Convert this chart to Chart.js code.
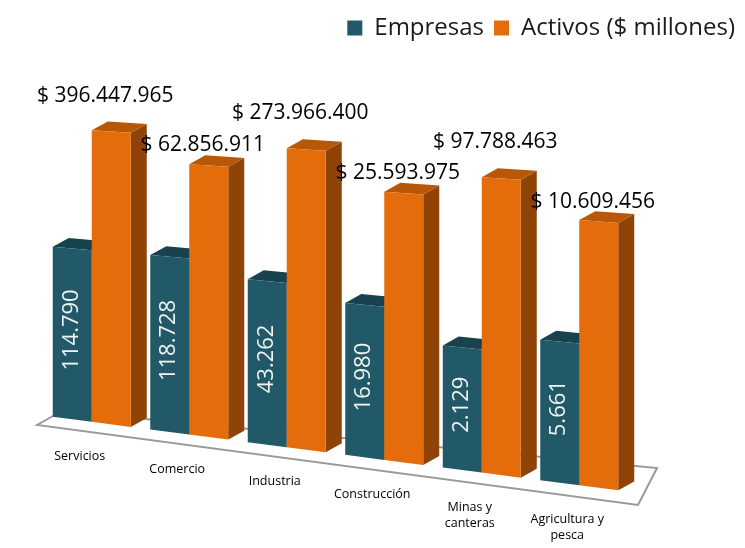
<!DOCTYPE html>
<html>
<head>
<meta charset="utf-8">
<script src="https://cdn.jsdelivr.net/npm/chart.js@4"></script>
<style>
  html, body { margin: 0; padding: 0; background: #fff; }
  #wrap { width: 745px; height: 548px; }
</style>
</head>
<body>
<div id="wrap"><canvas id="grafico"></canvas></div>
<script>
const categorias = ['Servicios', 'Comercio', 'Industria', 'Construcción', ['Minas y', 'canteras'], ['Agricultura y', 'pesca']];
const empresas = [114790, 118728, 43262, 16980, 2129, 5661];
const activos = [396447965, 62856911, 273966400, 25593975, 97788463, 10609456];
const series = ['Empresas', 'Activos ($ millones)'];

const FUENTE = '"Open Sans", "DejaVu Sans", sans-serif';
const SLOPE = 0.13;        // inclinación del piso
const PIVOT_X = 62;
const PERSP = 0.00022;     // las barras de la derecha se ven algo más altas
const PERSP_X = 333;
const DEPTH = { dx: 16, dy: -11 };   // profundidad 3D (en espacio inclinado)

const colores = {
    teal: { front: '#215968', top: '#18424d', side: '#173f4a' },
    orange: { front: '#e46c0a', top: '#b95708', side: '#8f4307' }
};

function miles(v) {
    return String(v).replace(/\B(?=(\d{3})+(?!\d))/g, '.');
}

// y en pantalla de un punto del espacio inclinado
function sy(x, y) {
    return y + SLOPE * (x - PIVOT_X);
}

// tope de la barra con la corrección de perspectiva
function topeEn(x, top, base) {
    return base - (base - top) * (1 + PERSP * (x - PERSP_X));
}

function poligono(ctx, pts, color) {
    ctx.beginPath();
    ctx.moveTo(pts[0][0], pts[0][1]);
    for (let k = 1; k < pts.length; k++) ctx.lineTo(pts[k][0], pts[k][1]);
    ctx.closePath();
    ctx.fillStyle = color;
    ctx.fill();
}

const perspectiva = {
    id: 'perspectiva',
    beforeDatasetsDraw(chart) {
        const ctx = chart.ctx;
        const a = chart.chartArea;
        const L = a.left, R = a.right, B = a.bottom;

        // piso
        ctx.save();
        ctx.beginPath();
        ctx.moveTo(L - 6, B + 7);
        ctx.lineTo(L + 19, B - 7);
        ctx.lineTo(R + 29, B + 50);
        ctx.lineTo(R + 10, B + 87);
        ctx.closePath();
        ctx.fillStyle = '#ffffff';
        ctx.fill();
        ctx.strokeStyle = '#999999';
        ctx.lineWidth = 2;
        ctx.stroke();
        ctx.restore();

        const metaE = chart.getDatasetMeta(0);
        const metaA = chart.getDatasetMeta(1);
        const { dx, dy } = DEPTH;
        ctx.save();
        ctx.transform(1, SLOPE, 0, 1, 0, -SLOPE * PIVOT_X);
        for (let i = 0; i < categorias.length; i++) {
            [[metaE, colores.teal], [metaA, colores.orange]].forEach(([meta, c]) => {
                const p = meta.data[i].getProps(['x', 'y', 'base', 'width'], true);
                const x0 = p.x - p.width / 2, x1 = p.x + p.width / 2;
                const base = p.base;
                const t0 = topeEn(x0, p.y, base), t1 = topeEn(x1, p.y, base);
                poligono(ctx, [[x1, t1], [x1 + dx, t1 + dy], [x1 + dx, base + dy], [x1, base]], c.side);
                poligono(ctx, [[x0, t0], [x1, t1], [x1 + dx, t1 + dy], [x0 + dx, t0 + dy]], c.top);
                poligono(ctx, [[x0, t0], [x1, t1], [x1, base], [x0, base]], c.front);
            });
        }
        ctx.restore();
        return false;
    },
    afterDraw(chart) {
        const ctx = chart.ctx;
        const a = chart.chartArea;
        const metaE = chart.getDatasetMeta(0);
        const metaA = chart.getDatasetMeta(1);
        const xs = chart.scales.x;
        ctx.save();
        ctx.textAlign = 'center';
        ctx.textBaseline = 'middle';

        for (let i = 0; i < categorias.length; i++) {
            // etiquetas de categoría
            const cx = xs.getPixelForValue(i) - 12;
            const lineas = [].concat(categorias[i]);
            ctx.fillStyle = '#000000';
            ctx.font = '12.5px ' + FUENTE;
            lineas.forEach((t, k) => {
                ctx.fillText(t, cx, sy(cx, a.bottom) + 36 + k * 16);
            });

            // valores de activos
            const pa = metaA.data[i].getProps(['x', 'y', 'base'], true);
            const topA = sy(pa.x, topeEn(pa.x, pa.y, pa.base));
            ctx.font = '21px ' + FUENTE;
            ctx.fillStyle = '#000000';
            ctx.fillText('$ ' + miles(activos[i]), pa.x - 6, topA - (i % 2 ? 20 : 36));

            // valores de empresas (verticales)
            const pe = metaE.data[i].getProps(['x', 'y', 'base'], true);
            const topE = topeEn(pe.x, pe.y, pe.base);
            const my = sy(pe.x, (topE + pe.base) / 2) - 4;
            ctx.save();
            ctx.translate(pe.x - 1, my);
            ctx.rotate(-Math.PI / 2);
            ctx.font = '22px ' + FUENTE;
            ctx.fillStyle = '#f2f2f2';
            ctx.fillText(miles(empresas[i]), 0, 0);
            ctx.restore();
        }
        ctx.restore();
    }
};

new Chart(document.getElementById('grafico'), {
    type: 'bar',
    data: {
        labels: categorias,
        datasets: [
            { label: series[0], data: empresas, backgroundColor: colores.teal.front },
            { label: series[1], data: activos, backgroundColor: colores.orange.front }
        ]
    },
    options: {
        responsive: true,
        maintainAspectRatio: false,
        animation: false,
        categoryPercentage: 0.8,
        barPercentage: 1,
        layout: { padding: { left: 43, right: 0, top: 6, bottom: 130 } },
        plugins: {
            legend: {
                position: 'top',
                align: 'end',
                labels: {
                    boxWidth: 15,
                    boxHeight: 15,
                    padding: 10,
                    color: '#1a1a1a',
                    font: { family: FUENTE, size: 24 }
                }
            },
            tooltip: { enabled: false }
        },
        scales: {
            x: { display: false },
            y: {
                type: 'logarithmic',
                position: 'right',
                min: 1,
                max: 1.9e10,
                grid: { display: false },
                border: { display: false },
                ticks: { display: false },
                afterFit(scale) { scale.width = 117; }
            }
        }
    },
    plugins: [perspectiva]
});
</script>
</body>
</html>
